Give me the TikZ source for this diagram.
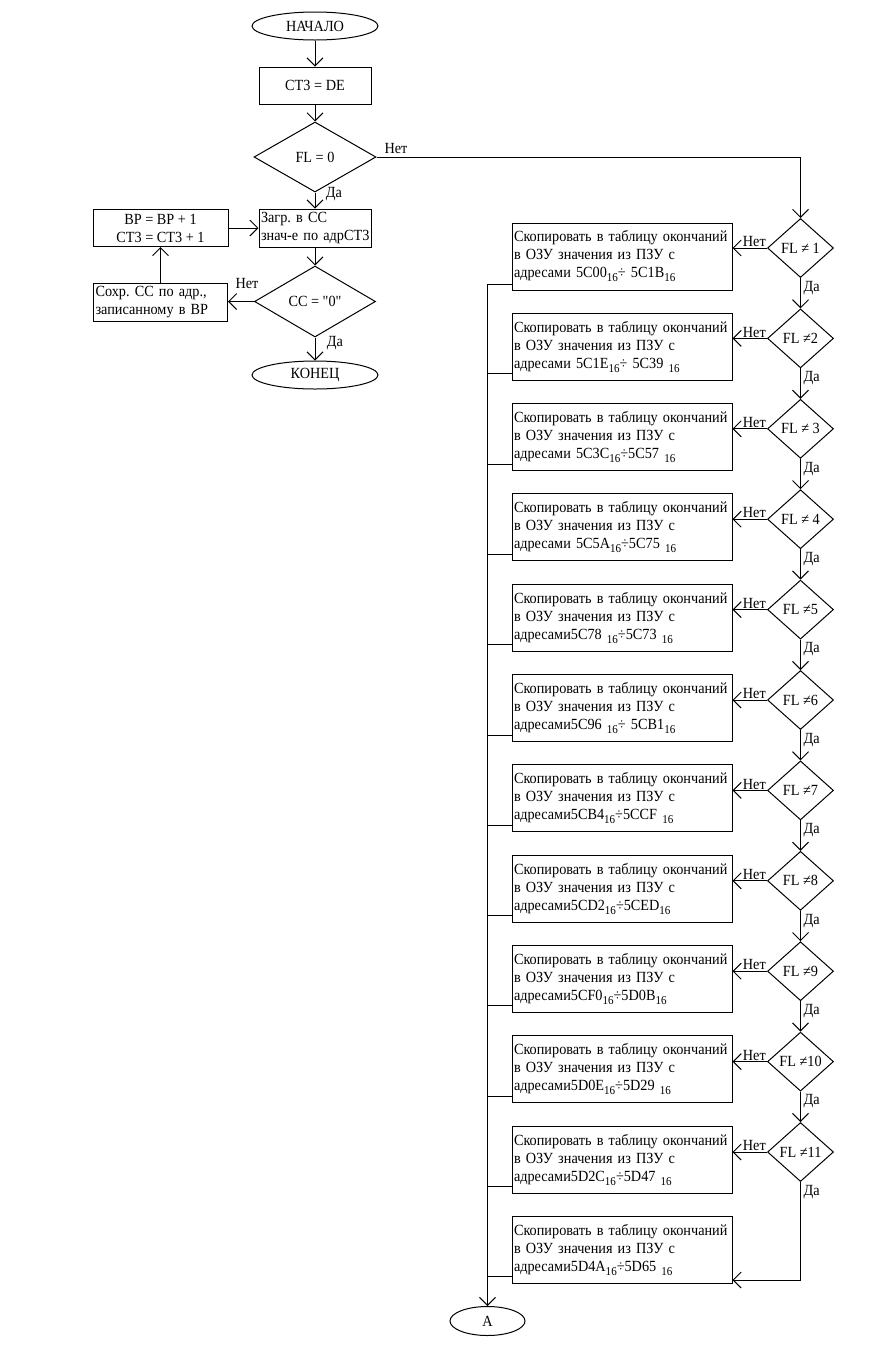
\documentclass[tikz,border=0pt]{standalone}
\usepackage{fontspec}
\newfontfamily\mf{Liberation Serif}[FakeStretch=0.92]
\usetikzlibrary{shapes.geometric,arrows.meta,calc}
\newcommand{\sx}[1]{\raisebox{-4pt}{\fontsize{12}{12}\selectfont #1}}
\newcommand{\cpy}[1]{\mbox{Скопировать в таблицу окончаний}\\\mbox{в ОЗУ значения из ПЗУ с}\\\mbox{#1}}
\begin{document}
\frenchspacing
\begin{tikzpicture}[x=1pt,y=-1pt,
  every node/.style={font=\mf\fontsize{15.5}{18}\selectfont},
  base/.style={draw, line width=1pt, inner sep=2pt},
  term/.style={base, ellipse, minimum width=126pt, minimum height=28pt, inner sep=0pt},
  proc/.style={base, rectangle},
  copybox/.style={base, rectangle, text width=216pt, align=left, minimum height=67pt},
  cond/.style={base, diamond, inner sep=0pt},
  smallcond/.style={cond, minimum width=66pt, minimum height=59pt},
  line/.style={line width=1pt},
  arr/.style={line, -{Straight Barb[length=8pt,width=16pt,line width=1pt]}},
  lbl/.style={inner sep=1pt}
]
\fill[white] (0,0) rectangle (872,1366);
\useasboundingbox (0,0) rectangle (872,1366);

% left part
\node[term] (start) at (315,26) {НАЧАЛО};
\node[proc, minimum width=112pt, minimum height=37pt] (ct3) at (315,85.5) {СТ3 = DE};
\node[cond, minimum width=122pt, minimum height=70pt] (fl0) at (315,157) {\makebox[0pt]{FL = 0}};
\node[proc, minimum width=112pt, minimum height=38pt, text width=108pt, align=left] (load) at (315,228) {\mbox{Загр. в СС}\\\mbox{знач-е по адрСТ3}};
\node[cond, minimum width=121pt, minimum height=71pt] (cc) at (315,301.5) {\makebox[0pt]{СС = "0"}};
\node[term] (end) at (315,375) {КОНЕЦ};
\node[proc, minimum width=135pt, minimum height=37pt, align=center] (bp) at (160.5,228) {ВР = ВР + 1\\СТ3 = СТ3 + 1};
\node[proc, text width=130pt, minimum height=38pt, align=left] (save) at (160.5,302) {\mbox{Сохр. СС по адр.,}\\\mbox{записанному в ВР}};

\draw[arr] (start) -- (ct3);
\draw[arr] (ct3) -- (fl0);
\draw[arr] (fl0) -- (load);
\draw[arr] (load) -- (cc);
\draw[arr] (cc) -- (end);
\draw[arr] (cc.west) -- (save.east |- cc.west);
\draw[arr] (save) -- (bp);
\draw[arr] (bp) -- (load);

\node[lbl] (lda1) at (334,194) {Да};
\node[lbl] (lda2) at (335,343) {Да};
\node[lbl] (lnet1) at (247,283) {Нет};
\node[lbl] (lnet0) at (396,148) {Нет};

% right part: copy boxes
\node[copybox] (b1) at (622,256.5) {\cpy{адресами 5C00\sx{16}÷ 5C1B\sx{16}}};
\node[copybox] (b2) at (622,346.8) {\cpy{адресами 5C1E\sx{16}÷ 5C39 \sx{16}}};
\node[copybox] (b3) at (622,437.1) {\cpy{адресами 5C3C\sx{16}÷5C57 \sx{16}}};
\node[copybox] (b4) at (622,527.4) {\cpy{адресами 5C5A\sx{16}÷5C75 \sx{16}}};
\node[copybox] (b5) at (622,617.7) {\cpy{адресами5C78 \sx{16}÷5C73 \sx{16}}};
\node[copybox] (b6) at (622,708.0) {\cpy{адресами5C96 \sx{16}÷ 5CB1\sx{16}}};
\node[copybox] (b7) at (622,798.3) {\cpy{адресами5CB4\sx{16}÷5CCF \sx{16}}};
\node[copybox] (b8) at (622,888.6) {\cpy{адресами5CD2\sx{16}÷5CED\sx{16}}};
\node[copybox] (b9) at (622,978.9) {\cpy{адресами5CF0\sx{16}÷5D0B\sx{16}}};
\node[copybox] (b10) at (622,1069.2) {\cpy{адресами5D0E\sx{16}÷5D29 \sx{16}}};
\node[copybox] (b11) at (622,1159.5) {\cpy{адресами5D2C\sx{16}÷5D47 \sx{16}}};
\node[copybox] (b12) at (622,1249.8) {\cpy{адресами5D4A\sx{16}÷5D65 \sx{16}}};

% decisions
\foreach \i/\yy/\t in {1/248/{FL ≠ 1},2/338.4/{FL ≠2},3/428.8/{FL ≠ 3},4/519.2/{FL ≠ 4},5/609.6/{FL ≠5},6/700/{FL ≠6},7/790.4/{FL ≠7},8/880.8/{FL ≠8},9/971.2/{FL ≠9},10/1061.6/{FL ≠10},11/1152/{FL ≠11}}{
  \node[smallcond] (d\i) at (800.5,\yy) {\makebox[0pt]{\t}};
  \draw[arr] (d\i.west) -- (b\i.east |- d\i.west);
  \node[lbl, anchor=south east] (n\i) at (d\i.west) {Нет};
  \node[lbl, anchor=north west] (y\i) at ([xshift=2pt,yshift=-2pt]d\i.south) {Да};
}
\foreach \i [evaluate=\i as \j using int(\i+1)] in {1,...,10}{
  \draw[arr] (d\i.south) -- (d\j.north);
}

\draw[arr] (fl0.east) -| (d1.north);
\coordinate (c12) at (800.5,1280);
\draw[arr] (d11.south) -- (c12) -- (c12 -| b12.east);

% bus to A
\node[base, ellipse, minimum width=75pt, minimum height=29pt, inner sep=0pt] (A) at (487.5,1321) {А};
\coordinate (bus) at (487.5,0);
\draw[arr] ([yshift=6pt]b1.south west) -| (A.north);
\foreach \i in {2,...,12}{
  \draw[line] ([yshift=7pt]b\i.south west) -- ([yshift=7pt]b\i.south west -| bus);
}
\end{tikzpicture}
\end{document}
